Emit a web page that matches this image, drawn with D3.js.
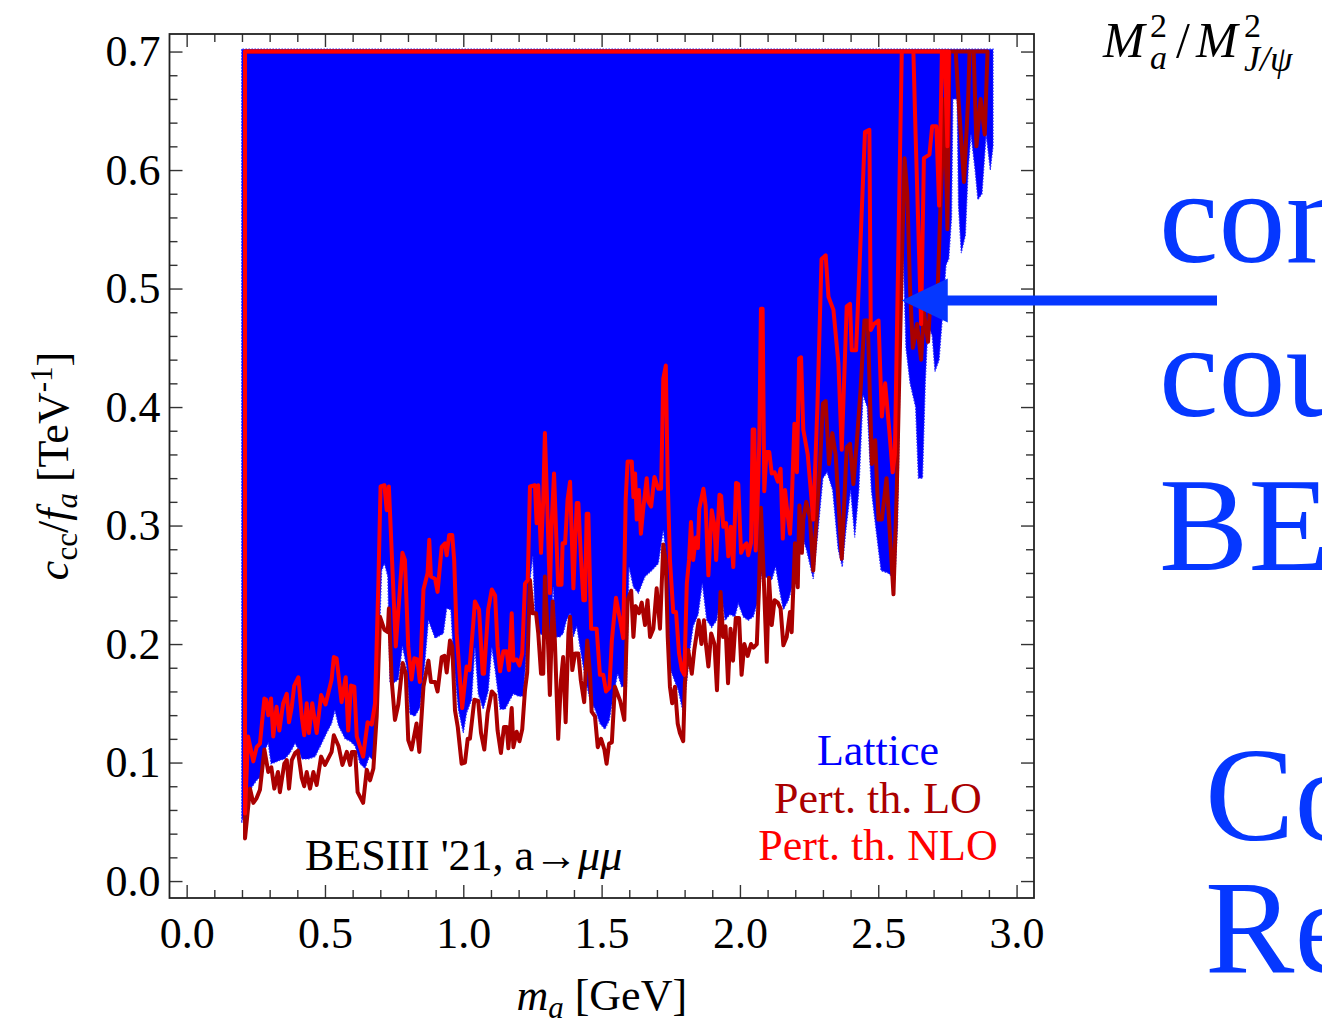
<!DOCTYPE html>
<html>
<head>
<meta charset="utf-8">
<script src="https://cdn.jsdelivr.net/npm/d3@7/dist/d3.min.js"></script>
<style>
  html, body { margin: 0; padding: 0; background: #fff; overflow: hidden; }
  svg { display: block; }
  text { font-family: "Liberation Serif", "DejaVu Serif", serif; }
</style>
</head>
<body>
<svg id="chart" width="1322" height="1026"></svg>
<script>
// ---- axis tick labels ----
const xTickValues = [0.0, 0.5, 1.0, 1.5, 2.0, 2.5, 3.0];
const xTickLabels = ["0.0", "0.5", "1.0", "1.5", "2.0", "2.5", "3.0"];
const yTickValues = [0.0, 0.1, 0.2, 0.3, 0.4, 0.5, 0.6, 0.7];
const yTickLabels = ["0.0", "0.1", "0.2", "0.3", "0.4", "0.5", "0.6", "0.7"];

// plotted frame (GeV, TeV^-1)
const xLimits = [-0.062, 3.063];
const yLimits = [-0.0143, 0.7148];

// ---- excluded region, lattice form factors: outline [m_a, c_cc/f_a] ----
const latticeBound = [
  [0.199,0.702],[0.199,0.049],[0.223,0.071],[0.235,0.079],[0.253,0.085],[0.268,0.088],[0.283,0.111],
  [0.295,0.116],[0.305,0.099],[0.319,0.100],[0.337,0.102],[0.355,0.103],[0.373,0.108],[0.392,0.116],
  [0.404,0.111],[0.416,0.103],[0.440,0.103],[0.464,0.105],[0.488,0.116],[0.506,0.125],[0.524,0.133],
  [0.536,0.144],[0.549,0.131],[0.573,0.120],[0.591,0.118],[0.609,0.114],[0.627,0.099],[0.645,0.095],
  [0.660,0.105],[0.675,0.102],[0.690,0.161],[0.705,0.262],[0.715,0.268],[0.727,0.257],[0.735,0.167],
  [0.747,0.167],[0.765,0.170],[0.780,0.198],[0.795,0.181],[0.807,0.141],[0.825,0.139],[0.843,0.146],
  [0.859,0.179],[0.874,0.220],[0.898,0.205],[0.928,0.209],[0.940,0.230],[0.955,0.229],[0.964,0.190],
  [0.982,0.145],[1.000,0.125],[1.012,0.142],[1.030,0.153],[1.042,0.197],[1.054,0.158],[1.072,0.145],
  [1.090,0.160],[1.103,0.197],[1.115,0.178],[1.133,0.145],[1.151,0.145],[1.169,0.153],[1.181,0.158],
  [1.199,0.156],[1.217,0.156],[1.229,0.197],[1.241,0.253],[1.251,0.274],[1.259,0.226],[1.277,0.209],
  [1.295,0.206],[1.313,0.206],[1.325,0.248],[1.334,0.206],[1.349,0.206],[1.361,0.209],[1.373,0.220],
  [1.386,0.226],[1.398,0.206],[1.410,0.215],[1.422,0.197],[1.440,0.172],[1.458,0.153],[1.476,0.145],
  [1.494,0.133],[1.512,0.128],[1.528,0.136],[1.542,0.156],[1.558,0.175],[1.572,0.164],[1.590,0.164],
  [1.599,0.265],[1.615,0.248],[1.633,0.243],[1.657,0.257],[1.681,0.262],[1.705,0.268],[1.723,0.296],
  [1.735,0.270],[1.747,0.180],[1.759,0.172],[1.777,0.161],[1.795,0.142],[1.807,0.167],[1.819,0.195],
  [1.831,0.215],[1.849,0.225],[1.864,0.251],[1.880,0.220],[1.898,0.214],[1.916,0.220],[1.932,0.243],
  [1.946,0.220],[1.964,0.225],[1.982,0.223],[1.994,0.234],[2.012,0.223],[2.030,0.220],[2.048,0.223],
  [2.066,0.237],[2.078,0.259],[2.096,0.256],[2.115,0.254],[2.129,0.265],[2.145,0.243],[2.157,0.229],
  [2.175,0.237],[2.193,0.251],[2.205,0.277],[2.223,0.293],[2.240,0.280],[2.265,0.255],[2.280,0.290],
  [2.300,0.340],[2.315,0.345],[2.335,0.330],[2.355,0.280],[2.370,0.265],[2.385,0.300],[2.400,0.330],
  [2.415,0.290],[2.430,0.330],[2.445,0.410],[2.460,0.400],[2.475,0.330],[2.490,0.300],[2.510,0.262],
  [2.535,0.260],[2.560,0.255],[2.570,0.300],[2.580,0.450],[2.590,0.530],[2.600,0.450],[2.615,0.420],
  [2.635,0.400],[2.645,0.340],[2.660,0.340],[2.670,0.420],[2.680,0.470],[2.695,0.460],[2.705,0.430],
  [2.720,0.440],[2.730,0.470],[2.745,0.520],[2.755,0.525],[2.765,0.560],[2.770,0.660],[2.785,0.660],
  [2.790,0.570],[2.800,0.530],[2.815,0.545],[2.825,0.600],[2.835,0.630],[2.850,0.600],[2.860,0.575],
  [2.875,0.580],[2.890,0.630],[2.905,0.600],[2.915,0.620],[2.915,0.702]
];

// ---- perturbative theory, LO: contour [m_a, c_cc/f_a] ----
const loContour = [
  [0.211,0.700],[0.211,0.036],[0.229,0.078],[0.241,0.066],[0.253,0.070],[0.265,0.077],[0.281,0.111],
  [0.295,0.092],[0.306,0.096],[0.317,0.078],[0.330,0.092],[0.337,0.075],[0.353,0.099],[0.362,0.102],
  [0.370,0.078],[0.380,0.102],[0.392,0.108],[0.402,0.110],[0.416,0.087],[0.425,0.080],[0.434,0.092],
  [0.446,0.078],[0.458,0.092],[0.470,0.081],[0.486,0.105],[0.500,0.098],[0.524,0.109],[0.532,0.123],
  [0.549,0.114],[0.563,0.098],[0.579,0.109],[0.591,0.098],[0.597,0.109],[0.609,0.109],[0.618,0.075],
  [0.638,0.066],[0.651,0.094],[0.663,0.085],[0.675,0.095],[0.687,0.139],[0.699,0.223],[0.715,0.212],
  [0.727,0.210],[0.731,0.230],[0.741,0.170],[0.753,0.136],[0.765,0.149],[0.781,0.184],[0.792,0.175],
  [0.801,0.119],[0.813,0.111],[0.831,0.133],[0.841,0.109],[0.856,0.164],[0.874,0.186],[0.883,0.168],
  [0.898,0.168],[0.907,0.160],[0.922,0.189],[0.932,0.190],[0.940,0.176],[0.952,0.203],[0.960,0.198],
  [0.970,0.144],[0.980,0.130],[0.994,0.099],[1.006,0.100],[1.016,0.120],[1.024,0.120],[1.040,0.153],
  [1.054,0.152],[1.064,0.125],[1.076,0.111],[1.088,0.142],[1.103,0.160],[1.115,0.157],[1.124,0.127],
  [1.136,0.108],[1.147,0.130],[1.157,0.130],[1.163,0.112],[1.175,0.146],[1.181,0.113],[1.193,0.126],
  [1.203,0.118],[1.213,0.128],[1.223,0.161],[1.231,0.176],[1.241,0.254],[1.251,0.226],[1.263,0.226],
  [1.271,0.209],[1.281,0.175],[1.289,0.175],[1.295,0.257],[1.305,0.209],[1.313,0.157],[1.323,0.236],
  [1.331,0.203],[1.343,0.120],[1.353,0.169],[1.361,0.189],[1.370,0.134],[1.380,0.209],[1.386,0.223],
  [1.394,0.178],[1.404,0.192],[1.416,0.192],[1.425,0.169],[1.437,0.151],[1.448,0.203],[1.458,0.175],
  [1.464,0.143],[1.476,0.139],[1.486,0.113],[1.498,0.120],[1.510,0.111],[1.518,0.099],[1.527,0.116],
  [1.537,0.117],[1.548,0.164],[1.567,0.152],[1.582,0.136],[1.594,0.237],[1.607,0.245],[1.615,0.206],
  [1.623,0.232],[1.635,0.226],[1.645,0.235],[1.657,0.216],[1.666,0.237],[1.675,0.206],[1.687,0.213],
  [1.699,0.247],[1.711,0.213],[1.723,0.284],[1.732,0.270],[1.739,0.206],[1.747,0.164],[1.755,0.150],
  [1.765,0.164],[1.775,0.133],[1.783,0.125],[1.795,0.118],[1.801,0.167],[1.813,0.195],[1.826,0.175],
  [1.835,0.195],[1.851,0.220],[1.861,0.200],[1.870,0.220],[1.877,0.200],[1.886,0.181],[1.896,0.209],
  [1.908,0.200],[1.917,0.161],[1.930,0.244],[1.939,0.206],[1.948,0.215],[1.957,0.167],[1.966,0.213],
  [1.975,0.186],[1.985,0.222],[1.997,0.222],[2.006,0.174],[2.016,0.200],[2.028,0.190],[2.040,0.200],
  [2.049,0.197],[2.061,0.200],[2.069,0.248],[2.076,0.315],[2.085,0.263],[2.097,0.185],[2.105,0.256],
  [2.115,0.216],[2.125,0.237],[2.137,0.235],[2.147,0.230],[2.157,0.199],[2.169,0.206],[2.181,0.227],
  [2.187,0.210],[2.199,0.285],[2.209,0.248],[2.215,0.317],[2.224,0.277],[2.229,0.305],[2.240,0.320],
  [2.253,0.307],[2.265,0.262],[2.290,0.355],[2.300,0.403],[2.310,0.405],[2.322,0.352],[2.334,0.378],
  [2.346,0.360],[2.368,0.272],[2.386,0.366],[2.398,0.369],[2.410,0.335],[2.422,0.369],[2.436,0.414],
  [2.450,0.473],[2.462,0.473],[2.477,0.352],[2.489,0.372],[2.501,0.305],[2.513,0.305],[2.530,0.340],
  [2.555,0.242],[2.567,0.330],[2.585,0.520],[2.595,0.610],[2.605,0.580],[2.615,0.500],[2.625,0.450],
  [2.640,0.470],[2.655,0.440],[2.665,0.480],[2.680,0.455],[2.690,0.495],[2.705,0.490],[2.715,0.500],
  [2.725,0.570],[2.740,0.660],[2.750,0.550],[2.757,0.700],[2.780,0.700],[2.790,0.660],[2.810,0.590],
  [2.825,0.660],[2.830,0.700],[2.845,0.700],[2.855,0.620],[2.870,0.660],[2.885,0.630],[2.895,0.700]
];

// ---- perturbative theory, NLO: contour [m_a, c_cc/f_a] ----
const nloContour = [
  [0.211,0.700],[0.211,0.057],[0.222,0.122],[0.241,0.101],[0.253,0.113],[0.265,0.116],[0.281,0.154],
  [0.287,0.153],[0.295,0.140],[0.305,0.154],[0.313,0.122],[0.325,0.147],[0.335,0.127],[0.349,0.150],
  [0.362,0.158],[0.370,0.134],[0.380,0.147],[0.389,0.165],[0.404,0.172],[0.416,0.139],[0.425,0.123],
  [0.434,0.150],[0.442,0.125],[0.454,0.150],[0.470,0.125],[0.486,0.157],[0.502,0.149],[0.524,0.170],
  [0.532,0.189],[0.542,0.188],[0.560,0.151],[0.575,0.172],[0.584,0.127],[0.594,0.165],[0.606,0.164],
  [0.615,0.122],[0.638,0.105],[0.654,0.134],[0.669,0.132],[0.681,0.150],[0.693,0.251],[0.701,0.333],
  [0.715,0.334],[0.723,0.313],[0.731,0.333],[0.741,0.279],[0.756,0.198],[0.768,0.237],[0.780,0.277],
  [0.789,0.271],[0.801,0.198],[0.813,0.170],[0.823,0.188],[0.834,0.187],[0.843,0.168],[0.856,0.246],
  [0.871,0.260],[0.877,0.288],[0.883,0.257],[0.898,0.255],[0.907,0.244],[0.922,0.282],[0.934,0.285],
  [0.940,0.275],[0.949,0.292],[0.960,0.292],[0.967,0.271],[0.976,0.209],[0.988,0.170],[0.996,0.146],
  [1.012,0.181],[1.022,0.178],[1.036,0.217],[1.042,0.236],[1.057,0.229],[1.070,0.175],[1.075,0.175],
  [1.090,0.229],[1.103,0.246],[1.115,0.241],[1.124,0.198],[1.133,0.177],[1.145,0.194],[1.157,0.194],
  [1.165,0.178],[1.175,0.226],[1.181,0.186],[1.193,0.187],[1.203,0.182],[1.213,0.192],[1.223,0.251],
  [1.233,0.254],[1.241,0.333],[1.259,0.334],[1.265,0.302],[1.271,0.334],[1.281,0.277],[1.289,0.322],
  [1.295,0.378],[1.305,0.305],[1.313,0.243],[1.319,0.299],[1.328,0.344],[1.335,0.298],[1.343,0.250],
  [1.355,0.250],[1.359,0.285],[1.368,0.285],[1.377,0.322],[1.386,0.337],[1.398,0.247],[1.410,0.319],
  [1.416,0.319],[1.425,0.274],[1.434,0.237],[1.440,0.237],[1.446,0.310],[1.452,0.310],[1.462,0.213],
  [1.482,0.213],[1.494,0.174],[1.506,0.174],[1.516,0.160],[1.528,0.163],[1.537,0.203],[1.552,0.239],
  [1.567,0.220],[1.578,0.205],[1.587,0.322],[1.594,0.354],[1.609,0.354],[1.615,0.324],[1.621,0.344],
  [1.627,0.305],[1.635,0.330],[1.642,0.293],[1.650,0.313],[1.663,0.340],[1.669,0.320],[1.679,0.316],
  [1.691,0.341],[1.705,0.331],[1.715,0.331],[1.723,0.424],[1.732,0.435],[1.739,0.337],[1.747,0.271],
  [1.759,0.227],[1.769,0.227],[1.780,0.192],[1.790,0.178],[1.799,0.174],[1.808,0.251],[1.816,0.271],
  [1.823,0.303],[1.831,0.271],[1.841,0.290],[1.848,0.281],[1.853,0.314],[1.868,0.331],[1.876,0.317],
  [1.886,0.258],[1.898,0.313],[1.908,0.300],[1.914,0.271],[1.926,0.326],[1.932,0.325],[1.940,0.299],
  [1.950,0.302],[1.958,0.274],[1.967,0.299],[1.976,0.265],[1.986,0.336],[1.994,0.335],[2.004,0.277],
  [2.016,0.283],[2.024,0.285],[2.030,0.275],[2.040,0.285],[2.046,0.381],[2.052,0.381],[2.057,0.279],
  [2.064,0.320],[2.070,0.372],[2.076,0.483],[2.082,0.483],[2.088,0.329],[2.096,0.362],[2.106,0.362],
  [2.115,0.344],[2.125,0.345],[2.137,0.337],[2.147,0.348],[2.155,0.289],[2.163,0.330],[2.172,0.310],
  [2.181,0.293],[2.187,0.318],[2.197,0.386],[2.206,0.345],[2.214,0.441],[2.221,0.442],[2.229,0.381],
  [2.245,0.360],[2.265,0.305],[2.280,0.400],[2.295,0.525],[2.310,0.528],[2.320,0.493],[2.338,0.482],
  [2.356,0.437],[2.368,0.364],[2.386,0.485],[2.398,0.487],[2.404,0.448],[2.420,0.448],[2.452,0.632],
  [2.468,0.634],[2.473,0.465],[2.484,0.470],[2.501,0.473],[2.513,0.392],[2.525,0.420],[2.540,0.380],
  [2.552,0.345],[2.560,0.360],[2.585,0.700],[2.627,0.700],[2.635,0.630],[2.655,0.470],[2.665,0.610],
  [2.685,0.613],[2.695,0.637],[2.710,0.637],[2.720,0.570],[2.730,0.700],[2.740,0.700],[2.745,0.660],
  [2.750,0.620],[2.755,0.700]
];

const legendItems = [
  { label: "Lattice", color: "#0000ff" },
  { label: "Pert. th. LO", color: "#aa0000" },
  { label: "Pert. th. NLO", color: "#ff0000" }
];
const sideLines = ["con", "cou", "BE"];
const sideLinesLower = ["Co", "Re"];

// ---- layout ----
const frame = { left: 169.5, right: 1034, top: 34, bottom: 898 };
const svg = d3.select("#chart");

const x = d3.scaleLinear().domain(xLimits).range([frame.left, frame.right]);
const y = d3.scaleLinear().domain(yLimits).range([frame.bottom, frame.top]);

const line = d3.line().x(d => x(d[0])).y(d => y(d[1])).curve(d3.curveLinear);

// lattice exclusion area
svg.append("path")
  .attr("d", line(latticeBound) + "Z")
  .attr("fill", "#0000ff")
  .attr("stroke", "#2a2aff")
  .attr("stroke-width", 1.2)
  .attr("stroke-dasharray", "1.5,1.5");

// LO contour, then NLO contour on top
svg.append("path")
  .attr("d", line(loContour) + "Z")
  .attr("fill", "none")
  .attr("stroke", "#aa0000")
  .attr("stroke-width", 4)
  .attr("stroke-linejoin", "round");

svg.append("path")
  .attr("d", line(nloContour) + "Z")
  .attr("fill", "none")
  .attr("stroke", "#ff0000")
  .attr("stroke-width", 4)
  .attr("stroke-linejoin", "round");

// ---- axes: inward ticks on all four sides ----
const xMinor = d3.range(0, 31).map(i => i / 10).filter(v => Math.round(v * 10) % 5 !== 0);
const yMinor = d3.range(0, 36).map(i => i / 50).filter(v => Math.round(v * 50) % 5 !== 0);
const tickFont = 44;

function styleAxis(g) {
  g.select(".domain").remove();
  g.selectAll(".tick line").attr("stroke", "#333").attr("stroke-width", 1.4);
  g.selectAll(".tick text")
    .attr("fill", "#000")
    .style("font-family", '"Liberation Serif", serif')
    .style("font-size", tickFont + "px");
}

svg.append("g").attr("transform", `translate(0,${frame.bottom})`)
  .call(d3.axisBottom(x).tickValues(xTickValues).tickSize(-13).tickPadding(19)
    .tickFormat((d, i) => xTickLabels[i]))
  .call(styleAxis);
svg.append("g").attr("transform", `translate(0,${frame.bottom})`)
  .call(d3.axisBottom(x).tickValues(xMinor).tickSize(-8).tickFormat(""))
  .call(styleAxis);
svg.append("g").attr("transform", `translate(0,${frame.top})`)
  .call(d3.axisTop(x).tickValues(xTickValues).tickSize(-13).tickFormat(""))
  .call(styleAxis);
svg.append("g").attr("transform", `translate(0,${frame.top})`)
  .call(d3.axisTop(x).tickValues(xMinor).tickSize(-8).tickFormat(""))
  .call(styleAxis);

svg.append("g").attr("transform", `translate(${frame.left},0)`)
  .call(d3.axisLeft(y).tickValues(yTickValues).tickSize(-13).tickPadding(9)
    .tickFormat((d, i) => yTickLabels[i]))
  .call(styleAxis);
svg.append("g").attr("transform", `translate(${frame.left},0)`)
  .call(d3.axisLeft(y).tickValues(yMinor).tickSize(-8).tickFormat(""))
  .call(styleAxis);
svg.append("g").attr("transform", `translate(${frame.right},0)`)
  .call(d3.axisRight(y).tickValues(yTickValues).tickSize(-13).tickFormat(""))
  .call(styleAxis);
svg.append("g").attr("transform", `translate(${frame.right},0)`)
  .call(d3.axisRight(y).tickValues(yMinor).tickSize(-8).tickFormat(""))
  .call(styleAxis);

svg.append("rect")
  .attr("x", frame.left).attr("y", frame.top)
  .attr("width", frame.right - frame.left).attr("height", frame.bottom - frame.top)
  .attr("fill", "none").attr("stroke", "#222").attr("stroke-width", 1.8);

// ---- axis titles ----
const xTitle = svg.append("text")
  .attr("x", (frame.left + frame.right) / 2).attr("y", 1010)
  .attr("text-anchor", "middle").attr("font-size", 44).attr("fill", "#000");
xTitle.append("tspan").attr("font-style", "italic").text("m");
xTitle.append("tspan").attr("font-style", "italic").attr("font-size", 31).attr("dy", 8).text("a");
xTitle.append("tspan").attr("dy", -8).text(" [GeV]");

const yTitle = svg.append("text")
  .attr("transform", `translate(68,${(frame.top + frame.bottom) / 2}) rotate(-90)`)
  .attr("text-anchor", "middle").attr("font-size", 44).attr("fill", "#000");
yTitle.append("tspan").attr("font-style", "italic").text("c");
yTitle.append("tspan").attr("font-size", 31).attr("dy", 9).text("cc");
yTitle.append("tspan").attr("dy", -9).text("/");
yTitle.append("tspan").attr("font-style", "italic").text("f");
yTitle.append("tspan").attr("font-style", "italic").attr("font-size", 31).attr("dy", 9).text("a");
yTitle.append("tspan").attr("dy", -9).text(" [TeV");
yTitle.append("tspan").attr("font-size", 31).attr("dy", -16).text("-1");
yTitle.append("tspan").attr("dy", 16).text("]");

// ---- in-plot labels ----
const expLabel = svg.append("text")
  .attr("x", 305).attr("y", 870).attr("font-size", 44).attr("fill", "#000");
expLabel.append("tspan").text("BESIII '21, a\u2192");
expLabel.append("tspan").attr("font-style", "italic").text("\u03bc\u03bc");

svg.append("g").selectAll("text").data(legendItems).join("text")
  .attr("x", 878).attr("y", (d, i) => 765 + i * 47.5)
  .attr("text-anchor", "middle").attr("font-size", 44)
  .attr("fill", d => d.color).text(d => d.label);

// ---- annotation outside the frame ----
const ratio = svg.append("text").attr("y", 57).attr("font-size", 50).attr("fill", "#000");
ratio.append("tspan").attr("x", 1103).attr("font-style", "italic").text("M");
ratio.append("tspan").attr("x", 1150).attr("dy", 12).attr("font-size", 34).attr("font-style", "italic").text("a");
ratio.append("tspan").attr("x", 1150).attr("dy", -32).attr("font-size", 34).text("2");
ratio.append("tspan").attr("x", 1176).attr("dy", 20).text("/");
ratio.append("tspan").attr("x", 1196).attr("font-style", "italic").text("M");
ratio.append("tspan").attr("x", 1244).attr("dy", 14).attr("font-size", 36).attr("font-style", "italic").text("J/\u03c8");
ratio.append("tspan").attr("x", 1244).attr("dy", -34).attr("font-size", 34).text("2");

const accent = "#0537ff";
svg.append("g").selectAll("text").data(sideLines).join("text")
  .attr("x", 1159).attr("y", (d, i) => 262 + i * 154)
  .attr("font-size", 134).attr("fill", accent).text(d => d);
svg.append("g").selectAll("text").data(sideLinesLower).join("text")
  .attr("x", 1205).attr("y", (d, i) => 840 + i * 132)
  .attr("font-size", 134).attr("fill", accent).text(d => d);

// arrow pointing into the excluded region
const tip = [x(2.585), y(0.49)];
svg.append("line")
  .attr("x1", tip[0] + 40).attr("y1", tip[1]).attr("x2", 1217).attr("y2", tip[1])
  .attr("stroke", accent).attr("stroke-width", 10);
svg.append("path")
  .attr("d", `M${tip[0]},${tip[1]} L${tip[0] + 46},${tip[1] - 22} L${tip[0] + 46},${tip[1] + 22} Z`)
  .attr("fill", accent);
</script>
</body>
</html>
